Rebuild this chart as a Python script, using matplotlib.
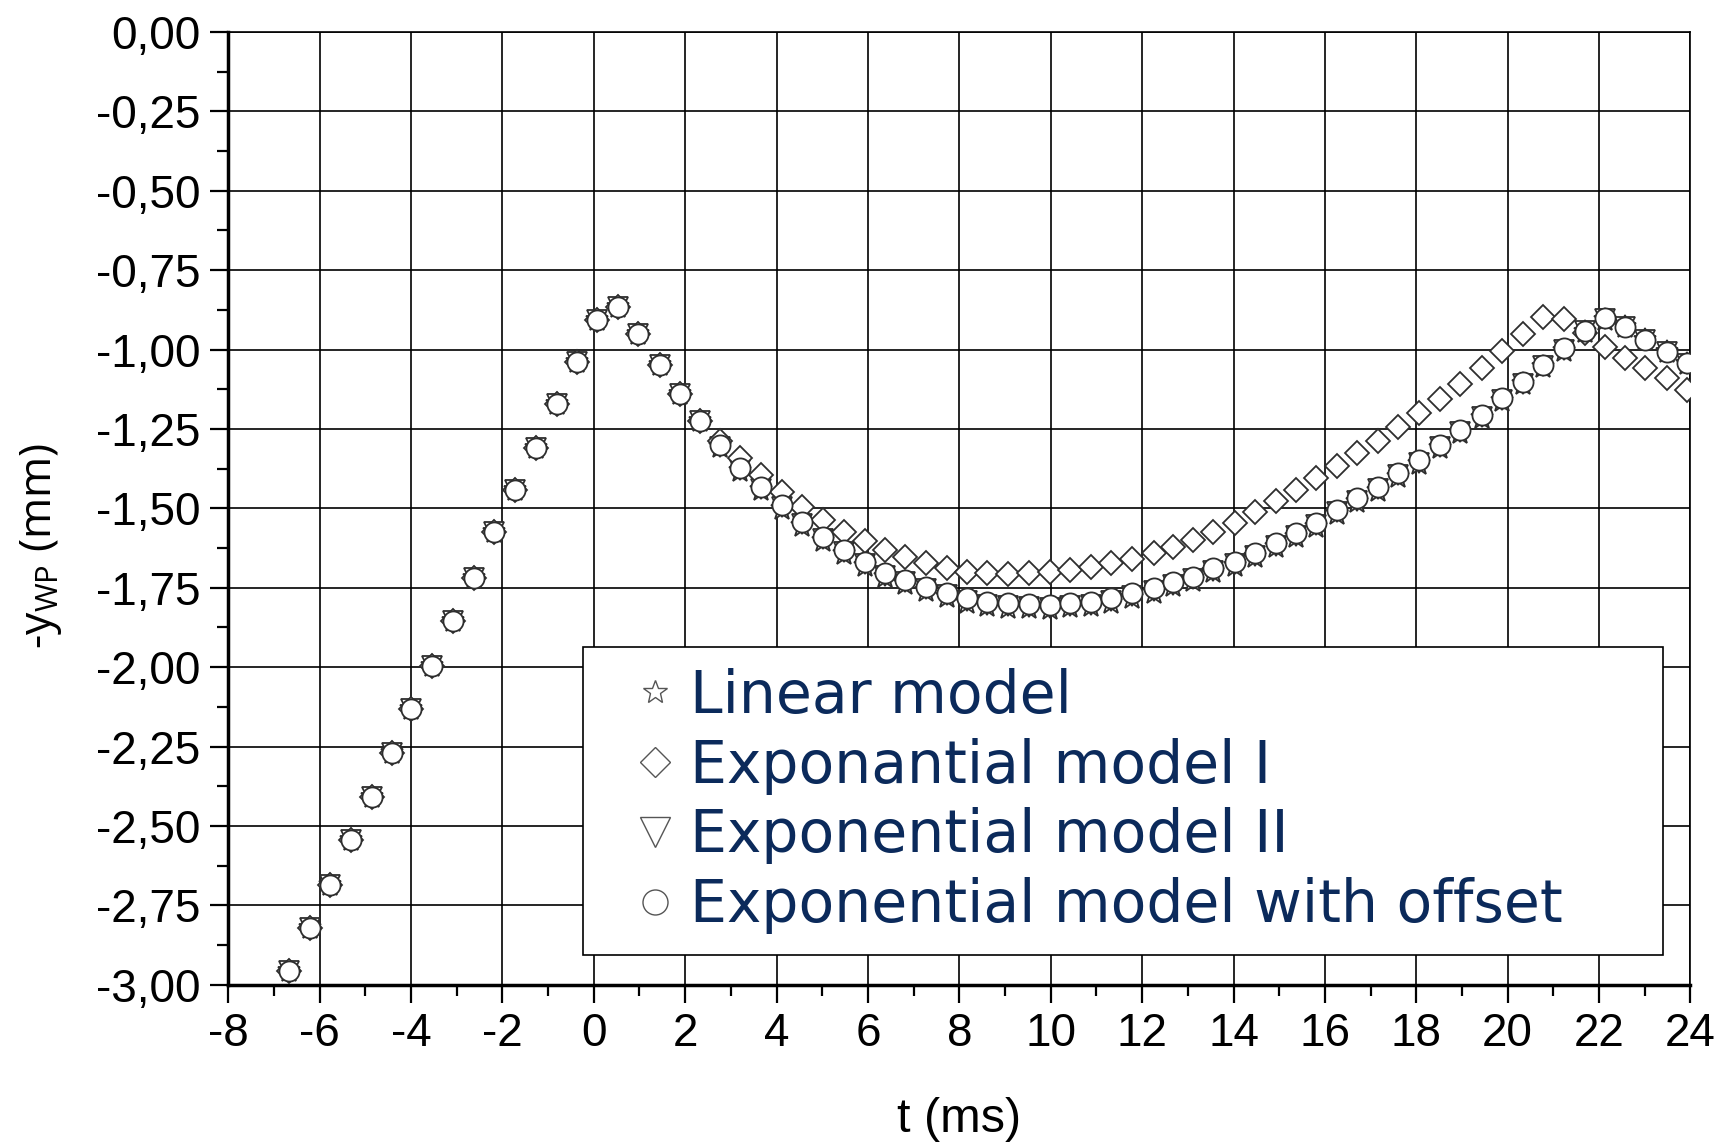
import matplotlib
matplotlib.use("Agg")
import matplotlib.pyplot as plt
from matplotlib.ticker import MultipleLocator, FuncFormatter
from matplotlib.lines import Line2D

# ---------------- data ----------------
t_ms = [-6.665, -6.21, -5.77, -5.32, -4.86, -4.41, -3.99, -3.53, -3.08, -2.62,
        -2.18, -1.72, -1.27, -0.81, -0.375, 0.06, 0.52, 0.97, 1.45, 1.89,
        2.33, 2.76, 3.20, 3.67, 4.11, 4.55, 5.02, 5.48, 5.94, 6.37,
        6.81, 7.27, 7.72, 8.16, 8.61, 9.07, 9.53, 9.98, 10.42, 10.88,
        11.31, 11.77, 12.25, 12.68, 13.12, 13.56, 14.03, 14.47, 14.93, 15.37,
        15.81, 16.26, 16.70, 17.17, 17.61, 18.07, 18.52, 18.96, 19.43, 19.87,
        20.33, 20.78, 21.23, 21.69, 22.13, 22.57, 23.01, 23.48, 23.92]

rise = [-2.957, -2.822, -2.686, -2.544, -2.410, -2.270, -2.133, -1.995, -1.854, -1.718,
        -1.576, -1.443, -1.309, -1.171, -1.038, -0.908, -0.865, -0.951, -1.048, -1.139,
        -1.226]

offset_model = rise + [
    -1.302, -1.374, -1.432, -1.489, -1.542, -1.589, -1.631, -1.668, -1.704,
    -1.725, -1.747, -1.765, -1.783, -1.794, -1.799, -1.801, -1.804, -1.797, -1.794,
    -1.783, -1.767, -1.752, -1.731, -1.715, -1.689, -1.668, -1.641, -1.610, -1.578,
    -1.545, -1.505, -1.468, -1.432, -1.388, -1.348, -1.300, -1.253, -1.206, -1.153,
    -1.101, -1.048, -0.996, -0.940, -0.902, -0.928, -0.970, -1.007, -1.043]

exp_model_1 = rise + [
    -1.288, -1.342, -1.395, -1.447, -1.495, -1.537, -1.573, -1.602, -1.630,
    -1.652, -1.673, -1.689, -1.699, -1.704, -1.707, -1.704, -1.700, -1.694, -1.684,
    -1.673, -1.660, -1.641, -1.623, -1.601, -1.575, -1.545, -1.512, -1.478, -1.443,
    -1.406, -1.367, -1.327, -1.287, -1.244, -1.200, -1.155, -1.109, -1.058, -1.004,
    -0.951, -0.897, -0.903, -0.949, -0.991, -1.027, -1.059, -1.090, -1.127]

linear_model = rise + [
    -1.308, -1.383, -1.443, -1.501, -1.555, -1.602, -1.644, -1.681, -1.717,
    -1.739, -1.760, -1.779, -1.797, -1.808, -1.813, -1.815, -1.817, -1.811, -1.807,
    -1.797, -1.781, -1.765, -1.745, -1.728, -1.702, -1.681, -1.654, -1.623, -1.591,
    -1.558, -1.518, -1.480, -1.444, -1.400, -1.360, -1.311, -1.264, -1.216, -1.163,
    -1.110, -1.056, -1.003, -0.946, -0.906, -0.930, -0.971, -1.008, -1.044]

exp_model_2 = rise + [
    -1.306, -1.380, -1.439, -1.496, -1.550, -1.597, -1.639, -1.676, -1.712,
    -1.733, -1.755, -1.774, -1.792, -1.803, -1.808, -1.810, -1.813, -1.806, -1.803,
    -1.792, -1.776, -1.761, -1.740, -1.723, -1.697, -1.676, -1.649, -1.618, -1.586,
    -1.553, -1.513, -1.476, -1.440, -1.396, -1.356, -1.307, -1.260, -1.212, -1.159,
    -1.107, -1.053, -1.000, -0.943, -0.904, -0.929, -0.971, -1.008, -1.044]

labels = ["Linear model", "Exponantial model I", "Exponential model II",
          "Exponential model with offset"]

# ---------------- style ----------------
plt.rcParams["axes.unicode_minus"] = False
plt.rcParams["mathtext.fontset"] = "custom"
plt.rcParams["mathtext.rm"] = "Open Sans"
plt.rcParams["mathtext.it"] = "Open Sans"

fig = plt.figure(figsize=(17.29, 11.43), dpi=100)
ax = fig.add_axes([0.1320, 0.1385, 0.8457, 0.8335])

edge = "#2e2e2e"
mew = 1.3
ax.plot(t_ms, linear_model, ls="none", marker="*", ms=17, mfc="white", mec=edge, mew=mew, zorder=3)
ax.plot(t_ms, exp_model_2, ls="none", marker="v", ms=14.5, mfc="white", mec=edge, mew=mew, zorder=4)
ax.plot(t_ms, exp_model_1, ls="none", marker="D", ms=12.5, mfc="white", mec=edge, mew=mew, zorder=5)
ax.plot(t_ms, offset_model, ls="none", marker="o", ms=14.5, mfc="white", mec=edge, mew=mew, zorder=6)

ax.set_xlim(-8, 24)
ax.set_ylim(-3.0, 0.0)
ax.xaxis.set_major_locator(MultipleLocator(2))
ax.xaxis.set_minor_locator(MultipleLocator(1))
ax.yaxis.set_major_locator(MultipleLocator(0.25))
ax.yaxis.set_minor_locator(MultipleLocator(0.125))


def yfmt(v, pos):
    s = f"{v:.2f}".replace(".", ",")
    if s == "-0,00":
        s = "0,00"
    return s


ax.yaxis.set_major_formatter(FuncFormatter(yfmt))
ax.xaxis.set_major_formatter(FuncFormatter(lambda v, p: f"{int(round(v))}"))

ax.grid(True, which="major", color="black", linewidth=1.2)
ax.set_axisbelow(True)

ax.tick_params(which="major", direction="out", length=13, width=1.6, color="black",
               labelsize=33, pad=7)
ax.tick_params(which="minor", direction="out", length=8, width=1.6, color="black")
for lab in ax.get_xticklabels() + ax.get_yticklabels():
    lab.set_fontfamily("Liberation Sans")

ax.spines["left"].set_linewidth(2.5)
ax.spines["bottom"].set_linewidth(2.5)
ax.spines["top"].set_linewidth(1.2)
ax.spines["right"].set_linewidth(1.2)

ax.set_xlabel("t (ms)", fontsize=35, fontfamily="Liberation Sans")
ax.xaxis.set_label_coords(0.5, -0.1176)
ax.set_ylabel("-y$_{\\mathrm{WP}}$ (mm)", fontsize=32, fontfamily="Open Sans")
ax.yaxis.set_label_coords(-0.112, 0.461)

# legend
lg_edge = "#555555"
handles = [
    Line2D([], [], ls="none", marker="*", ms=18, mfc="white", mec=lg_edge, mew=1.0),
    Line2D([], [], ls="none", marker="D", ms=15, mfc="white", mec=lg_edge, mew=1.0),
    Line2D([], [], ls="none", marker="v", ms=22, mfc="white", mec=lg_edge, mew=1.0),
    Line2D([], [], ls="none", marker="o", ms=18, mfc="white", mec=lg_edge, mew=1.0),
]
leg = ax.legend(handles, labels, loc="lower left",
                bbox_to_anchor=(0.2426, 0.0315, 0.7387, 0.3235), mode="expand",
                borderaxespad=0, borderpad=0.35, labelspacing=0.22,
                handlelength=1.78, handletextpad=-0.3,
                frameon=True, fancybox=False, framealpha=1, edgecolor="black",
                prop={"family": "DejaVu Sans", "size": 42})
leg.get_frame().set_linewidth(1.2)
for txt in leg.get_texts():
    txt.set_color("#0b2a5b")
leg.set_zorder(10)

fig.savefig("out.png", dpi=100)
